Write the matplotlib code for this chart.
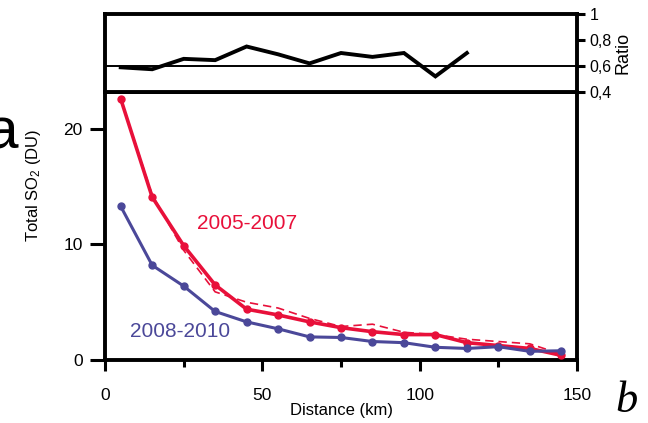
import matplotlib
matplotlib.use("Agg")
import matplotlib.pyplot as plt
from matplotlib.ticker import FixedLocator, FuncFormatter

plt.rcParams['font.family'] = ['Liberation Sans', 'DejaVu Sans']
plt.rcParams['mathtext.fontset'] = 'custom'
plt.rcParams['mathtext.rm'] = 'Liberation Sans'
plt.rcParams['mathtext.it'] = 'Liberation Sans:italic'

# Data
distance = [5, 15, 25, 35, 45, 55, 65, 75, 85, 95, 105, 115, 125, 135, 145]
so2_2005_2007 = [22.6, 14.1, 9.9, 6.5, 4.4, 3.9, 3.3, 2.8, 2.45, 2.2, 2.2, 1.5, 1.25, 1.0, 0.4]
so2_2005_2007_alt = [22.6, 14.3, 9.5, 5.9, 5.0, 4.5, 3.6, 2.9, 3.1, 2.4, 2.2, 1.8, 1.6, 1.4, 0.5]
so2_2008_2010 = [13.3, 8.2, 6.4, 4.2, 3.3, 2.7, 2.0, 1.95, 1.6, 1.5, 1.1, 1.0, 1.15, 0.75, 0.8]
ratio_dist = [5, 15, 25, 35, 45, 55, 65, 75, 85, 95, 105, 115]
ratio = [0.59, 0.575, 0.655, 0.645, 0.75, 0.69, 0.62, 0.70, 0.67, 0.70, 0.52, 0.70]
xticks_major = [0, 50, 100, 150]
xticks_minor = [25, 75, 125]
yticks_main = [0, 10, 20]
yticks_ratio = [0.4, 0.6, 0.8, 1.0]

red = '#E8103A'
blue = '#4B4899'

fig = plt.figure(figsize=(6.48, 4.23), dpi=100)
ax = fig.add_axes([105/648, 1-360/423, 472/648, 268/423])
axr = fig.add_axes([105/648, 1-92/423, 472/648, 78/423])

spw = 2.8
tw = 2.2
for a in (ax, axr):
    for s in a.spines.values():
        s.set_linewidth(spw)

# Main panel
ax.plot(distance, so2_2005_2007_alt, color=red, lw=1.2, ls=(0, (5, 3)), zorder=2)
ax.plot(distance, so2_2005_2007, color=red, lw=2.6, marker='o', ms=5, zorder=3)
ax.plot(distance, so2_2008_2010, color=blue, lw=2.2, marker='o', ms=5, zorder=3)
ax.set_xlim(0, 150)
ax.set_ylim(0, 23.2)
ax.xaxis.set_major_locator(FixedLocator(xticks_major))
ax.xaxis.set_minor_locator(FixedLocator(xticks_minor))
ax.yaxis.set_major_locator(FixedLocator(yticks_main))
ax.tick_params(axis='both', which='both', direction='out', width=tw, labelsize=12.5)
ax.tick_params(axis='y', which='major', length=11, pad=5)
ax.tick_params(axis='x', which='major', length=8, pad=12)
ax.tick_params(axis='x', which='minor', length=5)
ax.set_xlabel('Distance (km)', fontsize=12, labelpad=0)
ax.set_ylabel('Total SO$_2$ (DU)', fontsize=12)
ax.yaxis.set_label_coords(-0.131, 0.65)
ax.text(0.30, 0.51, '2005-2007', transform=ax.transAxes, color=red, fontsize=15,
        ha='center', va='center')
ax.text(0.158, 0.105, '2008-2010', transform=ax.transAxes, color=blue, fontsize=15,
        ha='center', va='center')

# Ratio panel
axr.plot(ratio_dist, ratio, color='black', lw=2.8, solid_joinstyle='miter')
axr.axhline(0.6, color='black', lw=1.4)
axr.set_xlim(0, 150)
axr.set_ylim(0.4, 1.0)
axr.set_xticks([])
axr.yaxis.tick_right()
axr.yaxis.set_label_position('right')
axr.yaxis.set_major_locator(FixedLocator(yticks_ratio))
axr.yaxis.set_major_formatter(FuncFormatter(lambda v, p: '1' if abs(v - 1) < 1e-9 else f'{v:.1f}'.replace('.', ',')))
axr.tick_params(axis='y', direction='out', length=6, width=tw, labelsize=11.5, pad=3)
axr.set_ylabel('Ratio', fontsize=13, labelpad=2)

# Panel letters
fig.text(18/648, 1-148/423, 'a', fontsize=42, ha='right', va='baseline')
fig.text(626/648, 1-412/423, 'b', fontsize=32, ha='center', va='baseline',
         family='Liberation Serif', style='italic')

fig.savefig('out.png', dpi=100)
